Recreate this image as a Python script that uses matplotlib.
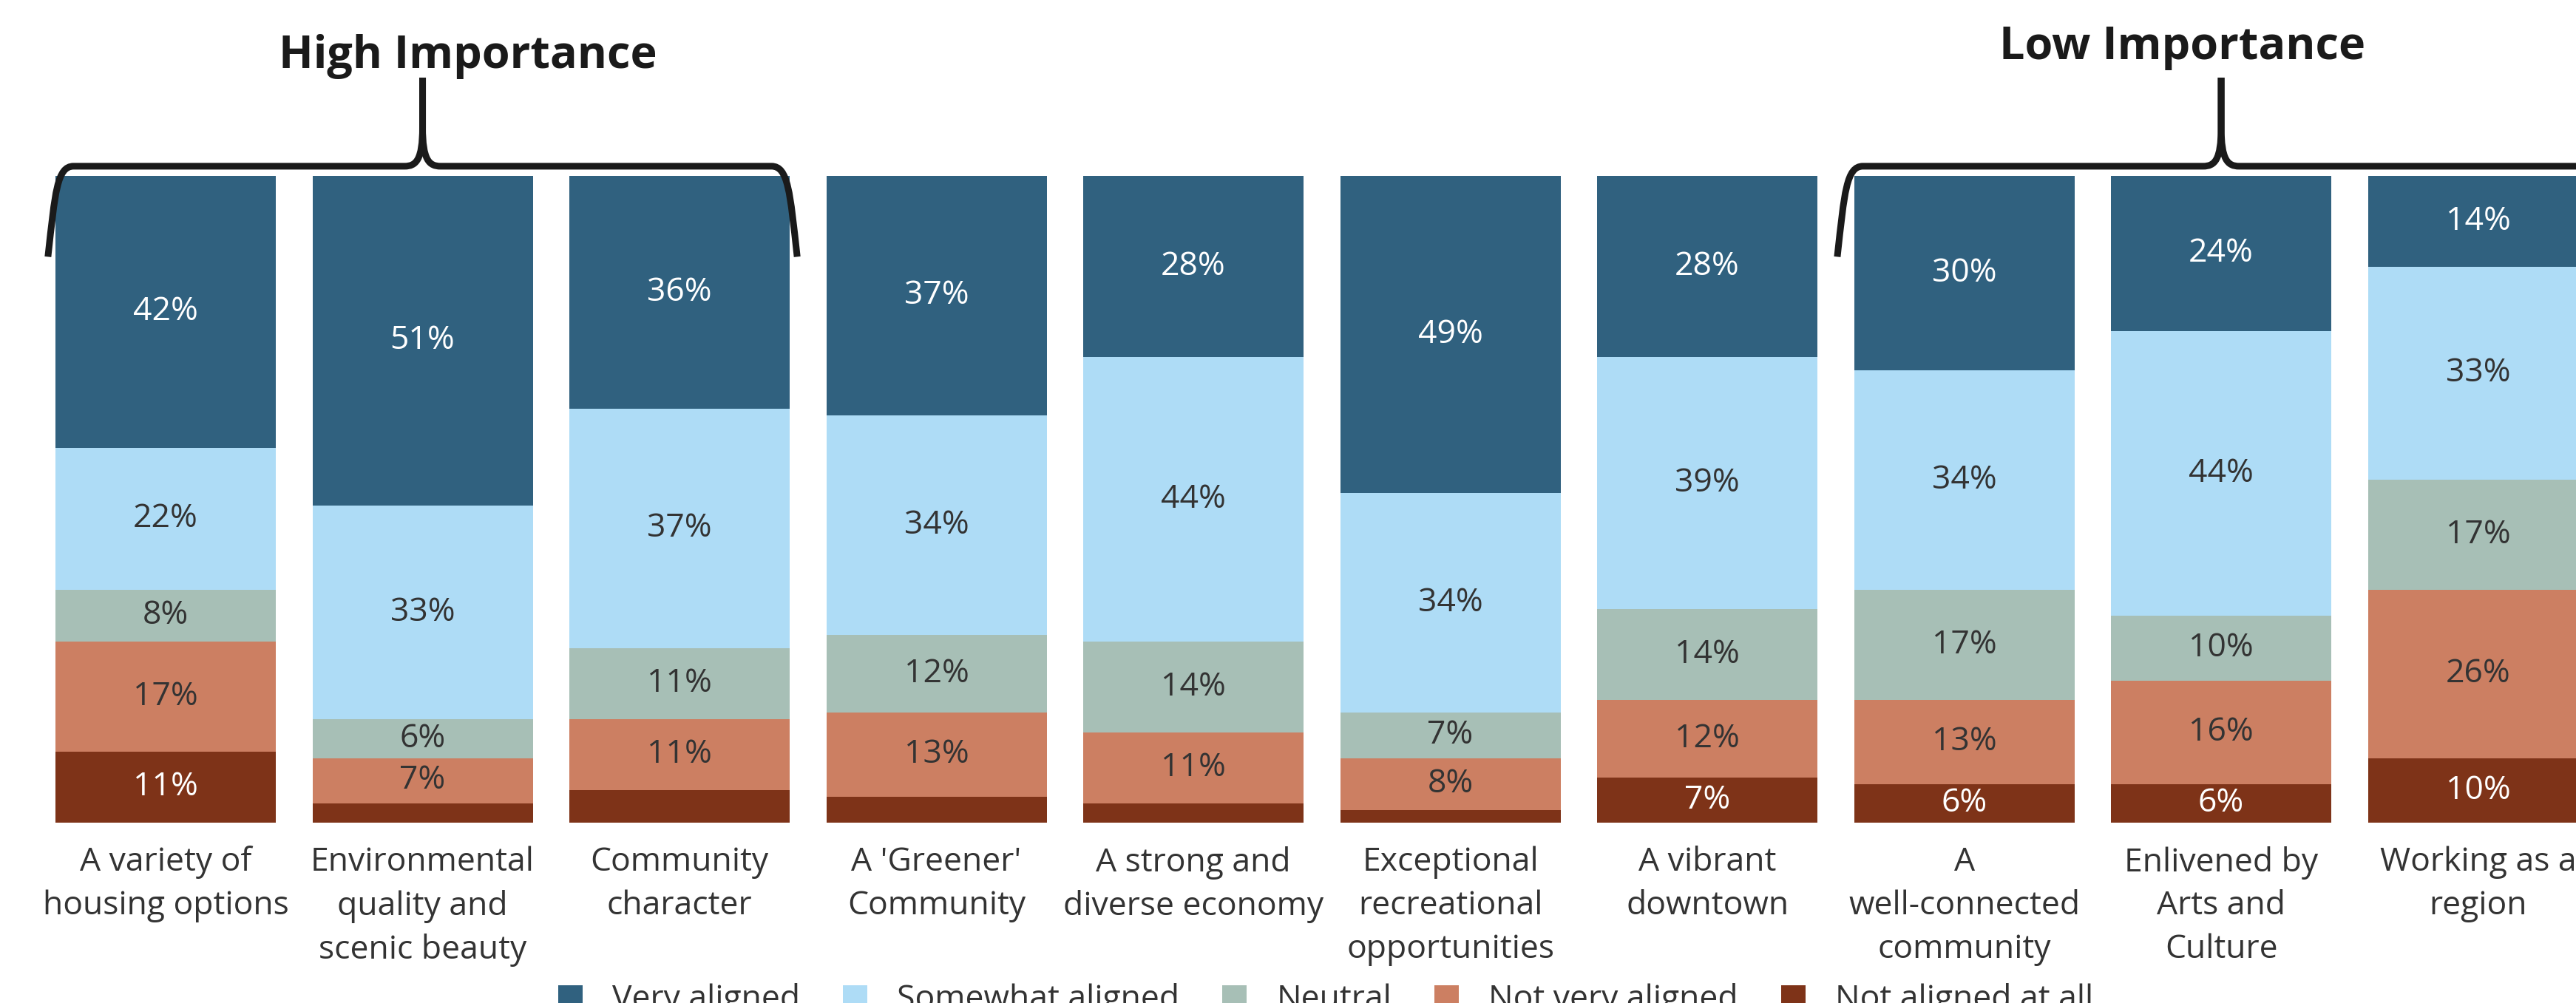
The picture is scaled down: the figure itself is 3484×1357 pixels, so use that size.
import matplotlib
matplotlib.use("Agg")
import matplotlib.pyplot as plt
from matplotlib.path import Path
from matplotlib.patches import PathPatch, Patch

plt.rcParams['font.family'] = ['Open Sans', 'DejaVu Sans']

categories = [
    "A variety of\nhousing options",
    "Environmental\nquality and\nscenic beauty",
    "Community\ncharacter",
    "A 'Greener'\nCommunity",
    "A strong and\ndiverse economy",
    "Exceptional\nrecreational\nopportunities",
    "A vibrant\ndowntown",
    "A\nwell-connected\ncommunity",
    "Enlivened by\nArts and\nCulture",
    "Working as a\nregion",
]
very_aligned = [42, 51, 36, 37, 28, 49, 28, 30, 24, 14]
somewhat_aligned = [22, 33, 37, 34, 44, 34, 39, 34, 44, 33]
neutral = [8, 6, 11, 12, 14, 7, 14, 17, 10, 17]
not_very_aligned = [17, 7, 11, 13, 11, 8, 12, 13, 16, 26]
not_aligned = [11, 3, 5, 4, 3, 2, 7, 6, 6, 10]

series_names = ["Very aligned", "Somewhat aligned", "Neutral",
                "Not very aligned", "Not aligned at all"]
colors = ["#30617f", "#aedcf6", "#a7bfb6", "#cc7f62", "#7e3318"]
text_colors = ["white", "#333333", "#333333", "#333333", "white"]

fig = plt.figure(figsize=(34.84, 13.57), dpi=100)
ax = fig.add_axes([0, 0.1798, 1, 0.6448])
ax.set_xlim(-0.6446, 9.381)
ax.set_ylim(0, 100)
ax.axis('off')

# stack from the bottom: not aligned at all first
stack = [not_aligned, not_very_aligned, neutral, somewhat_aligned, very_aligned]
stack_colors = colors[::-1]
stack_text = text_colors[::-1]
x = list(range(len(categories)))
bottoms = [0] * len(categories)
for vals, col, tcol in zip(stack, stack_colors, stack_text):
    ax.bar(x, vals, bottom=bottoms, width=0.8575, color=col, linewidth=0)
    for i, v in enumerate(vals):
        if v >= 6:
            ax.text(i, bottoms[i] + v / 2, f"{v}%", ha='center', va='center',
                    fontsize=32, color=tcol)
    bottoms = [b + v for b, v in zip(bottoms, vals)]

for i, lab in enumerate(categories):
    ax.text(i, -3.6, lab, ha='center', va='top', fontsize=32, color='#333333',
            linespacing=1.43, clip_on=False)


def brace(x0, xp, x1, y_end=87.5, y_line=101.5, y_peak=115.2):
    for xe, s in ((x0, 1), (x1, -1)):
        verts = [
            (xe, y_end),
            (xe + s * 0.028, y_line - 4), (xe + s * 0.035, y_line), (xe + s * 0.1, y_line),
            (xp - s * 0.07, y_line),
            (xp - s * 0.025, y_line), (xp, y_line + 1.0), (xp, y_line + 6),
            (xp, y_peak),
        ]
        codes = [Path.MOVETO, Path.CURVE4, Path.CURVE4, Path.CURVE4, Path.LINETO,
                 Path.CURVE4, Path.CURVE4, Path.CURVE4, Path.LINETO]
        ax.add_patch(PathPatch(Path(verts, codes), facecolor='none',
                               edgecolor='#1a1a1a', lw=6.5, clip_on=False,
                               capstyle='butt', joinstyle='round'))


brace(-0.458, 1.0, 2.458)
brace(6.506, 8.0, 9.494)
ax.text(1.177, 116.7, "High Importance", ha='center', va='baseline',
        fontsize=44, fontweight='bold', color='#1a1a1a', clip_on=False)
ax.text(7.85, 118.1, "Low Importance", ha='center', va='baseline',
        fontsize=44, fontweight='bold', color='#1a1a1a', clip_on=False)

handles = [Patch(facecolor=c, edgecolor='none', label=n) for c, n in zip(colors, series_names)]
fig.legend(handles=handles, loc='upper center', bbox_to_anchor=(0.5146, 0.036),
           ncol=5, frameon=False, fontsize=32, handlelength=0.75, handleheight=0.75,
           handletextpad=0.9, columnspacing=1.3, borderpad=0, labelcolor='#333333')

fig.savefig("out.png", dpi=100)
